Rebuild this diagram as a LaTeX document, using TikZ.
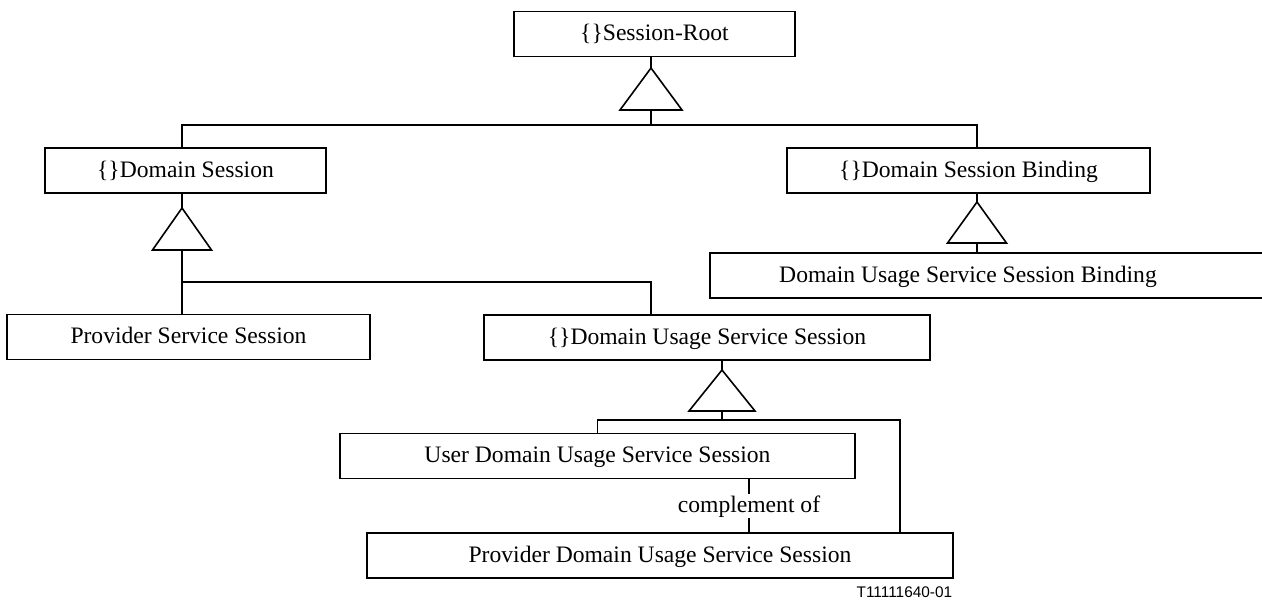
\documentclass[tikz,border=0pt]{standalone}
\usepackage{fontspec}
\setmainfont{Liberation Serif}
\newfontfamily\tagfont{Liberation Sans}
\begin{document}
\begin{tikzpicture}[x=0.5pt,y=-0.5pt,
  line width=0.8pt,
  cls/.style={draw, rectangle, inner sep=0pt, minimum height=22.5pt,
    font=\fontsize{11.8}{14}\selectfont, text height=0.91em, text depth=0.25em},
  lbl/.style={inner sep=0pt, fill=white,
    font=\fontsize{11.8}{14}\selectfont, text height=0.91em, text depth=0.25em},
  gen/.style={draw, fill=white, line join=miter},
  conn/.style={draw}]
\useasboundingbox (0,0) rectangle (1262,601);

% classes
\node[cls, minimum width=140.5pt] (root) at (654.5,34)  {\{\}Session-Root};
\node[cls, minimum width=140.5pt] (ds)   at (185.5,170.5) {\{\}Domain Session};
\node[cls, minimum width=181.5pt] (dsb)  at (968.5,170.5) {\{\}Domain Session Binding};
\node[cls, minimum width=280pt]   (dusb) at (990,275.5) {};
\node[lbl, fill=none] (dusbtext) at (968,275.5) {Domain Usage Service Session Binding};
\node[cls, minimum width=181.5pt] (pss)  at (188.5,337) {Provider Service Session};
\node[cls, minimum width=223pt]   (duss) at (707,337.5) {\{\}Domain Usage Service Session};
\node[cls, minimum width=257.5pt] (udss) at (597.5,456) {User Domain Usage Service Session};
\node[cls, minimum width=293pt]   (pdss) at (660,555.5) {Provider Domain Usage Service Session};

% generalization triangles: apex and base midpoint
\coordinate (g1) at (651,68);  \coordinate (g1b) at (651,110);
\coordinate (g2) at (182,208); \coordinate (g2b) at (182,250);
\coordinate (g3) at (977,202); \coordinate (g3b) at (977,243);
\coordinate (g4) at (722,370); \coordinate (g4b) at (722,411);

% junction points of the inheritance trees
\coordinate (j1) at (651,125);
\coordinate (j2) at (182,282);
\coordinate (j4) at (722,420);
\coordinate (rt) at (900,420);
\coordinate (cx) at (749,506);

% Session-Root tree
\draw[conn] (root.south -| g1) -- (g1);
\draw[conn] (g1b) -- (j1);
\draw[conn] (ds.north -| g2) |- (j1) -| (dsb.north -| g3);
\draw[gen] (g1) -- ++(31,42) -- ++(-62,0) -- cycle;

% Domain Session tree
\draw[conn] (ds.south -| g2) -- (g2);
\draw[conn] (g2b) -- (pss.north -| g2);
\draw[conn] (j2) -| (duss.north -| j1);
\draw[gen] (g2) -- ++(29.5,42) -- ++(-59,0) -- cycle;

% Domain Session Binding tree
\draw[conn] (dsb.south -| g3) -- (g3);
\draw[conn] (g3b) -- (dusb.north -| g3);
\draw[gen] (g3) -- ++(29.5,41) -- ++(-59,0) -- cycle;

% Domain Usage Service Session tree
\draw[conn] (duss.south -| g4) -- (g4);
\draw[conn] (g4b) -- (j4);
\draw[conn] (udss.north) |- (rt) -- (rt |- pdss.north);
\draw[gen] (g4) -- ++(33,41) -- ++(-66,0) -- cycle;

% association between user and provider sessions
\draw[conn] (udss.south -| cx) -- (cx) node[lbl] (comp) {complement of} -- (pdss.north -| cx);

% figure tag
\node[anchor=base east, inner sep=0pt, font=\tagfont\fontsize{7.7}{9}\selectfont] (tag) at (953,597) {T11111640-01};
\end{tikzpicture}
\end{document}
